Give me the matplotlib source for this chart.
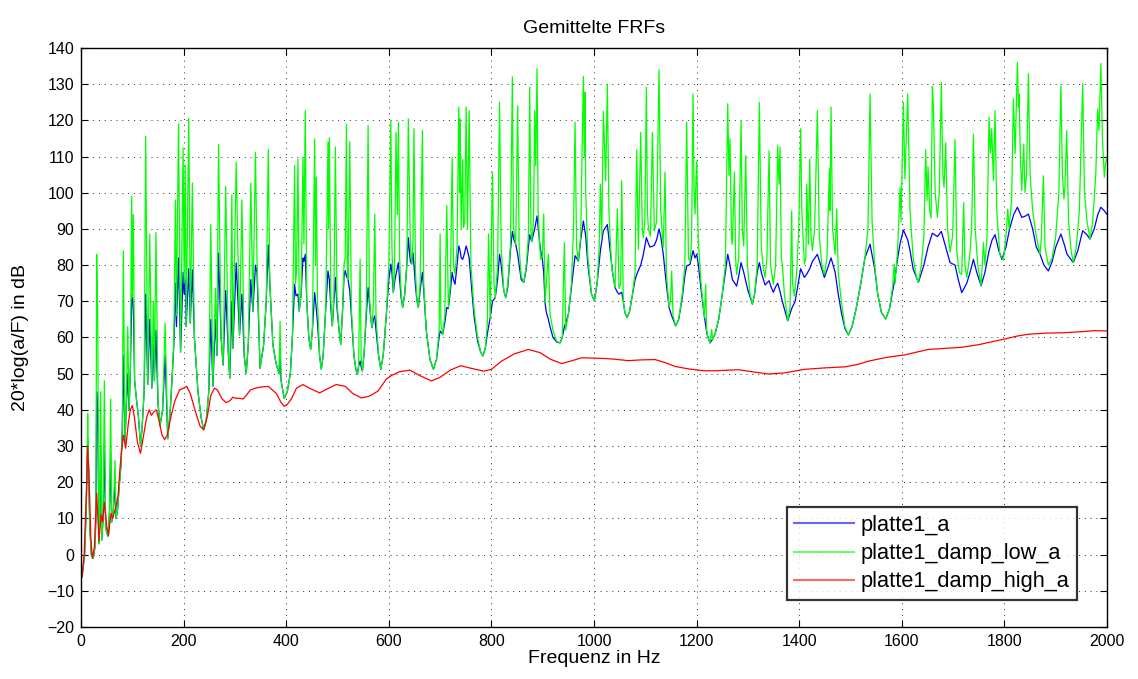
import numpy as np
import matplotlib
matplotlib.use("Agg")
import matplotlib.pyplot as plt

# Averaged frequency response functions (frequency in Hz, level in dB)
platte1_a = [
    (0, -7), (3, -5), (7, 0), (10, 12), (12, 26), (13, 32), (14.5, 25), (17, 8), (20, 0), (24, -1),
    (27, 2), (29, 10), (30.5, 45), (32.5, 40), (35, 3), (36.5, 10), (38.3, 30), (40.3, 4), (43, 10),
    (45.5, 30), (48, 8), (50, 6), (53.3, 5), (55.5, 12), (57.8, 28), (59.8, 9), (63, 12), (66.3, 20),
    (68.2, 10), (71, 12), (74, 18), (78, 25), (80.5, 35), (82.5, 55), (85.7, 31), (88, 40), (91, 50),
    (93.6, 40), (96, 50), (98.8, 70), (100, 72), (102, 68), (104.5, 48), (108, 43), (112, 38), (116, 30),
    (119, 35), (123, 45), (126, 72), (130, 47), (134, 65), (138, 46), (141, 58), (143, 48), (146, 62),
    (150, 42), (154, 35.6), (159, 40), (164, 55), (169, 32), (174, 40), (178, 50), (181, 58), (184, 75),
    (186, 63), (190, 82), (194, 56), (199, 78), (201, 72), (203, 76), (205, 63), (210, 79), (213, 64),
    (217, 78.7), (221, 60), (228, 45), (234, 38), (239, 34.5), (244, 37), (249, 45), (253, 65),
    (257, 46.5), (262, 65), (265, 55), (268, 83.3), (273, 60), (277, 52.4), (282, 73), (287, 56),
    (290, 48.8), (294, 70), (296, 57), (302.5, 80.6), (309, 60.7), (313.6, 72), (318, 55), (322, 50.1),
    (326, 58), (331, 76), (335, 67.2), (340, 80), (343, 78), (349, 51.5), (356, 58), (361, 70),
    (365, 85.6), (368, 75), (374, 58), (380, 53), (386, 50), (388, 55), (390, 48), (396, 43.2), (402, 45),
    (408, 50), (412, 60), (416.3, 74.7), (419, 71.5), (422.8, 72), (425.4, 67.3), (429, 72), (432.6, 82),
    (434.5, 81), (437.1, 83), (440, 70), (444, 60), (447.6, 56.7), (451, 62), (455.4, 72.4), (458.6, 68),
    (461, 64), (465, 55), (468.4, 51.2), (472, 55), (477, 68), (481.4, 78.4), (484, 76), (487, 68),
    (489.9, 63.2), (493, 70), (495.8, 76.6), (499, 68), (503, 62), (506.2, 58.1), (510, 68), (512.7, 77),
    (515, 78.5), (517.3, 77), (520.5, 76), (523.8, 73), (527, 66), (532, 55), (536, 51), (538.8, 49.8),
    (541, 52), (544, 53.5), (546, 52), (548.5, 50.7), (552, 56), (556, 66), (559.6, 73.8), (562, 70),
    (565, 65), (567.4, 62.7), (570, 65), (572.6, 66), (575, 62), (580, 55), (584.3, 51.2), (589, 55),
    (595, 66), (600, 76), (603.9, 80.3), (606, 78), (608.8, 72.4), (612, 76), (618.6, 80.7), (621, 76),
    (624, 71), (627, 68.3), (631, 72), (635, 80), (638, 87.6), (640, 84), (642, 81), (644.6, 80.3),
    (647, 83.5), (649, 80), (652, 74), (655, 70), (657.6, 68.3), (661, 73), (665.4, 78), (668, 73),
    (673, 62), (680, 54), (687, 51.2), (693, 54), (698, 60), (700, 61.8), (702, 61.5), (705, 60.9),
    (709, 64), (713, 68.3), (716, 68), (720, 73), (723.4, 78), (726, 76), (729, 74.7), (733, 80),
    (736.4, 85.3), (739, 84), (741, 82), (744, 81.6), (747, 83), (750.7, 85.3), (753.3, 84), (756.6, 82),
    (760, 76), (766, 66), (773, 59), (779, 56), (783.3, 54.9), (788, 57), (792, 61), (797.6, 65.5),
    (802, 70), (807.4, 71), (812, 76), (815.8, 83), (819, 80), (824, 73), (827.8, 71), (832, 74),
    (837, 84), (840.8, 89.3), (844, 87), (847.3, 85.8), (851.2, 83), (854, 80), (858, 76), (863, 75.2),
    (868, 79), (872, 85), (874.6, 88.4), (878.5, 86.5), (884.3, 90), (888.9, 93.6), (893.4, 87),
    (896, 84), (899, 82), (901.9, 78), (904.5, 69.6), (907, 67), (911, 65), (914.2, 63), (920, 60),
    (927, 58.8), (933.7, 58.5), (938, 60), (942.2, 63), (944.8, 64), (950, 66.4), (956, 74), (963, 82.6),
    (966, 82), (969.5, 81), (974, 87), (979.2, 92.2), (983.8, 88), (988, 80), (995, 72), (1000.7, 70.1),
    (1006, 75), (1012.4, 84), (1018.2, 89.5), (1022.7, 90.5), (1026, 91.2), (1030, 86), (1036, 78),
    (1041, 73.8), (1045.5, 72.5), (1048.7, 72), (1054, 72.5), (1057, 70), (1060, 67), (1064.3, 65.5),
    (1069, 67), (1075, 72), (1080, 76), (1083.2, 77.4), (1086.4, 78.5), (1091, 80), (1096.2, 83),
    (1102, 87.6), (1106, 86), (1109, 85), (1113.7, 85.2), (1117.6, 85.5), (1122, 87), (1126.7, 90),
    (1130, 88), (1135, 83), (1140, 76), (1146.2, 68.3), (1151.4, 66), (1159, 63.2), (1165, 65),
    (1172, 71), (1177, 77), (1180.6, 79.8), (1187, 80.2), (1193, 84), (1196.9, 82), (1200.2, 83),
    (1203.4, 80), (1208, 74), (1215, 66), (1220, 61), (1226, 58.5), (1231, 59.5), (1236, 61), (1243, 65),
    (1250, 72), (1256, 78), (1260.6, 83), (1265, 80), (1269.7, 76), (1278, 74.2), (1282, 77),
    (1286.6, 80.7), (1291.8, 78), (1300, 73), (1308.7, 69.2), (1313, 72), (1318, 78), (1322.3, 80.7),
    (1326, 78), (1333.4, 74.5), (1341.2, 75.7), (1345, 74), (1349.6, 72.5), (1354, 74), (1358, 75),
    (1362, 73), (1367, 70), (1377.5, 64.6), (1385.3, 68), (1392, 70), (1402.8, 79), (1410, 76.6),
    (1414.6, 77.5), (1420.4, 79), (1425.6, 81), (1435.4, 83), (1444, 79), (1449, 76.6), (1455, 79),
    (1462, 82), (1470, 78), (1476, 72), (1482, 67), (1489, 62.5), (1495.8, 60.7), (1503, 63), (1511, 68),
    (1520, 75), (1528, 82), (1538, 85.8), (1547, 79), (1553, 72), (1560, 67), (1568.6, 65.1), (1576, 68),
    (1584.9, 75), (1592, 82), (1596.6, 86), (1603, 89.7), (1611.4, 87), (1616, 84), (1622, 79),
    (1632.2, 75.2), (1643, 80), (1651, 85), (1659.5, 88.8), (1669.3, 87.9), (1677, 89.3), (1685.5, 85),
    (1694, 80.7), (1703.7, 80), (1710, 76), (1716.7, 72.4), (1726.5, 75), (1733, 78), (1739.5, 81.6),
    (1746, 78), (1754.5, 74.3), (1762, 78), (1770, 84), (1776, 87), (1781.7, 88.4), (1789, 84),
    (1795, 81.6), (1803, 85), (1810, 90), (1818, 94), (1825.3, 96), (1833.7, 93.2), (1840, 93.5),
    (1846.7, 94.1), (1855, 90), (1862, 85), (1869.4, 83), (1877, 80), (1885.7, 78.4), (1893, 81),
    (1900, 85), (1910, 88.6), (1916, 86), (1922, 83), (1934.3, 80.7), (1943, 84), (1952.5, 89.5),
    (1960, 88.5), (1966.8, 87.2), (1975, 90), (1982, 94), (1988, 96), (1994.7, 95), (2000, 94),
]

platte1_damp_low_a = [
    (0, -7), (3, -5), (7, 0), (10, 12), (12, 28), (13, 39), (14.5, 25), (17, 8), (20, 0), (24, -1),
    (27, 2), (29, 10), (30.5, 83), (32.5, 66), (35, 3), (36.5, 10), (38.3, 45), (40.3, 4), (43, 10),
    (45.5, 48), (48, 8), (50, 6), (53.3, 5), (55.5, 12), (57.8, 43), (59.8, 9), (63, 12), (66.3, 26),
    (68.2, 10), (71, 12), (74, 18), (78, 25), (80.5, 35), (82.5, 84), (85.7, 31), (88, 40), (91, 63),
    (93.6, 40), (96, 50), (98.8, 99), (100, 71), (102, 94), (104.5, 48), (108, 43), (112, 38), (116, 30),
    (119, 35), (123, 45), (126, 115.6), (130, 47), (134, 88.6), (138, 46), (141, 70), (143, 48),
    (146, 89), (150, 42), (154, 35.6), (159, 40), (164, 64), (169, 32), (174, 40), (178, 50), (181, 60),
    (184, 98), (186, 66), (190, 119), (194, 56), (199, 112.4), (201, 75), (203, 107.7), (205, 63),
    (210, 120.6), (213, 64), (217, 102.7), (221, 60), (228, 45), (234, 38), (239, 34.5), (244, 37),
    (249, 45), (253, 91.2), (257, 46.5), (262, 73.6), (265, 55), (268, 113.3), (273, 60), (277, 52.4),
    (282, 101.8), (287, 56), (290, 48.8), (294, 99.4), (296, 57), (302.5, 108.4), (309, 60.7),
    (313.6, 98), (318, 55), (322, 50.1), (326, 58), (331, 102.7), (335, 67.2), (340, 111.2), (343, 82),
    (349, 51.5), (356, 58), (361, 70), (365, 111.9), (368, 75), (374, 58), (380, 53), (386, 50),
    (388, 64.4), (390, 48), (396, 43.2), (402, 45), (408, 50), (412, 60), (416.3, 107.5), (418, 75),
    (420, 78), (422.8, 109.3), (425.4, 67.3), (429, 72), (432.6, 109.8), (434.5, 85.8), (437.1, 122.7),
    (440, 70), (444, 60), (447.6, 56.7), (451, 62), (455.4, 114.9), (457, 80), (458.6, 104.3), (461, 70),
    (465, 55), (468.4, 51.2), (472, 55), (477, 68), (481.4, 114), (482.5, 90), (484, 115.2), (487, 70),
    (489.9, 63.2), (493, 72), (495.8, 112.6), (499, 70), (503, 62), (506.2, 58.1), (510, 68),
    (512.7, 80.3), (515, 82), (517.3, 119), (519, 80), (520.5, 76), (523.8, 114.1), (527, 68), (532, 55),
    (536, 51), (538.8, 49.8), (541, 52), (544, 81.6), (546, 55), (548.5, 50.7), (552, 56), (556, 68),
    (559.6, 118.6), (562, 72), (565, 65), (567.4, 62.7), (570, 70), (572.6, 94.1), (575, 66), (580, 55),
    (584.3, 51.2), (589, 55), (595, 66), (600, 80), (603.9, 120), (606, 85), (608.8, 72.4), (611, 78),
    (614, 116.7), (616.6, 94), (618.6, 119.5), (621, 82), (624, 72), (627, 68.3), (631, 72), (635, 80),
    (638, 120.4), (640, 102.4), (642, 85), (644.6, 80.3), (647, 86), (649, 117.7), (652, 78), (655, 70),
    (657.6, 68.3), (661, 75), (665.4, 117.2), (668, 75), (673, 62), (680, 54), (687, 51.2), (693, 54),
    (698, 62), (700, 88.6), (701.5, 64), (705, 60.9), (709, 66), (713, 96.4), (716, 68.3), (720, 75),
    (723.4, 109.8), (726, 80), (729, 77.6), (733, 85), (736.4, 123.7), (738, 100), (739, 120.4),
    (741, 90), (744, 109.3), (745.5, 90.4), (748, 92), (750.7, 123.7), (753.3, 90), (756.6, 122.7),
    (760, 80), (766, 68), (773, 60), (779, 56), (783.3, 54.9), (788, 57), (792, 64), (794.3, 88.6),
    (797.6, 65), (802, 105.7), (805, 75), (807.4, 71), (812, 80), (815.8, 125), (819, 85), (824, 73),
    (827.8, 71), (832, 75), (837, 85), (840.8, 132), (843, 90), (844, 89.3), (847.3, 85.8), (851.2, 124),
    (854, 85), (858, 77), (863, 75.2), (868, 80), (872, 88), (874.6, 129.2), (877, 90), (878.5, 86.5),
    (882, 92), (884.3, 122.7), (886.3, 107.5), (888.9, 134.3), (891, 95), (893.4, 86.7), (896, 81.6),
    (899, 82), (901.9, 94.1), (904.5, 69.6), (907, 75), (911, 83), (914.2, 66.4), (920, 62), (927, 59),
    (933.7, 58.5), (938, 60), (942.2, 86.2), (944.8, 62), (950, 66.4), (956, 75), (960, 90),
    (963, 119.5), (966, 85), (969.5, 81), (974, 88), (979.2, 132.2), (981, 110), (982.5, 127.8),
    (983.8, 100), (988, 82), (995, 72), (1000.7, 70.1), (1006, 75), (1010, 85), (1012.4, 102.4),
    (1015, 88), (1018.2, 122.5), (1022.7, 103.3), (1026, 130), (1029, 95), (1034, 80), (1041, 73.8),
    (1045.5, 95.5), (1048.7, 73.5), (1052, 75), (1054, 103.3), (1057, 70), (1060, 67), (1064.3, 65.5),
    (1069, 67), (1075, 72), (1080, 78), (1083.2, 111.9), (1086.4, 84.4), (1091, 116.7), (1094, 90),
    (1096.2, 87.6), (1099, 92), (1102, 129.2), (1104, 95), (1106, 90), (1110, 88), (1113.7, 116.7),
    (1117.6, 89.5), (1122, 92), (1126.7, 134), (1130, 95), (1135, 85), (1138.4, 105.7), (1141, 78),
    (1146.2, 68.3), (1149, 70), (1151.4, 78.4), (1154, 66), (1159, 63.2), (1165, 65), (1172, 72),
    (1177, 80), (1180.6, 119.5), (1184, 82), (1187, 81), (1190, 86), (1193, 127.3), (1195, 100),
    (1196.9, 94.1), (1198, 100), (1200.2, 108.8), (1203, 88), (1208, 76), (1212, 70), (1215, 65.5),
    (1217.7, 74.7), (1219.5, 62), (1222, 60), (1226, 58.5), (1229.4, 62.2), (1231, 59.5), (1236, 61),
    (1243, 65), (1250, 72), (1256, 80), (1260.6, 124.6), (1263, 104.8), (1265, 114.9), (1268, 88),
    (1269.7, 85.8), (1273.6, 105.7), (1276, 82), (1278, 77.4), (1282, 82), (1286.6, 120), (1289, 90),
    (1291.8, 85.3), (1295.7, 110.3), (1299, 80), (1304, 72), (1308.7, 69.2), (1313, 72), (1318, 80),
    (1322.3, 125), (1326, 85), (1330, 79), (1333.4, 76.6), (1337, 82), (1341.2, 111.6), (1344, 80),
    (1349.6, 74.7), (1354, 80), (1358, 113.1), (1360.6, 102.4), (1362.6, 112.6), (1365, 82),
    (1367, 80.3), (1371, 72), (1377.5, 64.6), (1382, 68), (1385.3, 95), (1387, 75), (1390.5, 71.5),
    (1395, 78), (1399, 90), (1402.8, 117.7), (1405, 95), (1410, 80.3), (1413, 82), (1414.6, 102.4),
    (1417.8, 85.8), (1420.4, 109.3), (1423, 88), (1425.6, 84), (1430, 90), (1435.4, 122.7), (1439, 88),
    (1444, 80), (1449, 77.4), (1454, 82), (1458.8, 106.6), (1460, 95), (1462, 123.7), (1465, 90),
    (1470, 83), (1473, 95.5), (1476, 78), (1482, 70), (1489, 63), (1495.8, 60.7), (1503, 63), (1511, 68),
    (1520, 75), (1528, 82), (1534, 90), (1538, 127.3), (1542, 92), (1547, 80), (1553, 72), (1560, 67),
    (1568.6, 65.1), (1576, 68), (1582, 74), (1584.9, 80.3), (1587, 75), (1592, 85), (1596.6, 101.5),
    (1598.4, 92), (1603, 125), (1606, 103.8), (1611.4, 127.3), (1616, 95), (1622, 82), (1628, 77),
    (1632.2, 75.2), (1638, 80), (1643, 88), (1646.5, 111.9), (1649, 97.8), (1651, 107.2), (1654.3, 95),
    (1657, 93), (1659.5, 129.5), (1661.5, 124), (1665, 100), (1669.3, 93.2), (1673, 100), (1677, 130.5),
    (1680, 105), (1682.3, 101.5), (1685.5, 113.8), (1689, 90), (1694, 83.6), (1699, 88), (1703.7, 114.7),
    (1707, 84), (1712, 78), (1716.7, 77.4), (1720.6, 97.3), (1723, 80), (1726.5, 76.6), (1732, 82),
    (1736, 90), (1739.5, 116.2), (1743, 90), (1748, 80), (1754.5, 74.3), (1759, 86.2), (1762, 80),
    (1766, 88), (1770, 120.9), (1772.6, 111), (1775.2, 117.7), (1778.5, 103.4), (1781.7, 122.7),
    (1785, 95), (1791, 83), (1798, 81.4), (1803, 88), (1806.5, 95.5), (1809, 90), (1814, 98),
    (1817.5, 126), (1820.8, 110.7), (1825.3, 136.1), (1827.3, 123.7), (1828.6, 127.3), (1831, 110),
    (1833.7, 100.6), (1837.6, 113.5), (1840, 100.1), (1843, 105), (1846.7, 132.9), (1850, 105),
    (1855, 95), (1862, 88), (1869.4, 83), (1872, 88), (1875.9, 104.7), (1879, 85), (1885.7, 80),
    (1893, 82), (1900, 88), (1906, 100), (1910, 129.7), (1913, 105), (1916, 98.3), (1918, 102),
    (1921.4, 117.2), (1925, 92), (1930, 84), (1934.3, 80.7), (1940, 85), (1946, 95), (1952.5, 130.1),
    (1956, 100), (1961, 92), (1966.8, 87.2), (1972, 92), (1978, 105), (1981.7, 123.2), (1984.3, 117.2),
    (1988, 135.7), (1991, 115), (1994.7, 104.3), (1997, 108), (2000, 110),
]

platte1_damp_high_a = [
    (0, -7), (2, -6), (6, 0), (10, 15), (13, 30), (16, 20), (19, 5), (22, -1), (26, 2), (30.5, 17),
    (35, 3.7), (39, 11), (42, 9), (45.5, 14.5), (50, 8), (53.3, 5.3), (58.5, 11.4), (61.7, 10),
    (67.6, 13), (72, 16), (76, 24), (80, 30), (82.5, 33), (87, 29.4), (92, 36), (96, 40), (100, 41.2),
    (104, 38), (110, 31), (116, 28), (122, 33), (128, 38), (133, 40), (137, 38.5), (142, 39.5), (147, 40),
    (152, 37), (158, 33), (163, 31.8), (168, 33), (175, 38), (183, 42.5), (192, 45.5), (200, 46),
    (206, 46.5), (213, 44.5), (222, 40), (232, 35.5), (239, 34.5), (246, 38), (253, 44), (260, 46),
    (266, 45.5), (275, 43), (283, 42), (290, 42.5), (296, 43.5), (302, 43.2), (309, 43.2), (316, 43),
    (322, 44), (330, 45.5), (340, 46), (350, 46.3), (365, 46.5), (381, 44.5), (390, 42), (396, 41),
    (402, 41.5), (410, 43), (420, 46), (432.6, 47), (445, 46), (465, 44.7), (480, 45.8), (497.7, 47),
    (515, 46.5), (530, 44.5), (546.6, 43.3), (562, 43.8), (579, 45.2), (595, 48.5), (605, 49.5),
    (620, 50.5), (641, 51), (660, 49.5), (683, 48), (700, 49), (720, 51), (740, 52.2), (760, 51.5),
    (785, 50.7), (800, 51.2), (820, 53.5), (845, 55.5), (872, 56.7), (895, 55.8), (915, 54),
    (937, 52.8), (955, 53.5), (976, 54.4), (1000, 54.3), (1021, 54.2), (1040, 54), (1067, 53.6),
    (1090, 53.8), (1119, 53.9), (1140, 53), (1158, 52), (1185, 51.3), (1216, 50.8), (1236, 50.8),
    (1281, 51.1), (1310, 50.5), (1340, 49.9), (1370, 50.2), (1411, 51.2), (1450, 51.6), (1490, 51.9),
    (1515, 52.6), (1536, 53.5), (1570, 54.5), (1606, 55.2), (1630, 56), (1652, 56.7), (1685, 57),
    (1717, 57.3), (1749, 58), (1775, 58.8), (1801, 59.6), (1825, 60.4), (1846, 60.9), (1880, 61.2),
    (1911, 61.3), (1950, 61.6), (1976, 61.9), (2000, 61.8),
]

series_names = ["platte1_a", "platte1_damp_low_a", "platte1_damp_high_a"]
series_colors = ["#0000ff", "#00ff00", "#ff0000"]
x_ticks = list(range(0, 2001, 200))
y_ticks = list(range(-20, 141, 10))

plt.rcParams["font.family"] = ["Liberation Sans", "DejaVu Sans"]

fig = plt.figure(figsize=(11.38, 6.79), dpi=100)
ax = fig.add_axes([0.0712, 0.0766, 0.9016, 0.8527])

for name, data, color in zip(series_names,
                             [platte1_a, platte1_damp_low_a, platte1_damp_high_a],
                             series_colors):
    arr = np.array(data, dtype=float)
    ax.plot(arr[:, 0], arr[:, 1], color=color, lw=0.9, label=name)

ax.set_xlim(0, 2000)
ax.set_ylim(-20, 140)
ax.set_xticks(x_ticks)
ax.set_yticks(y_ticks)
ax.tick_params(direction="in", top=True, right=True, length=5, width=0.8,
               labelsize=11.5, pad=5)
ax.grid(True, color="#303030", linestyle=(0, (1, 5)), linewidth=0.7)
for s in ax.spines.values():
    s.set_linewidth(1.0)
    s.set_color("black")

ax.set_title("Gemittelte FRFs", fontsize=14, pad=11)
ax.set_xlabel("Frequenz in Hz", fontsize=14, labelpad=1)
ax.set_ylabel("20*log(a/F) in dB", fontsize=14, labelpad=13)

leg = ax.legend(loc="lower right", bbox_to_anchor=(0.971, 0.0466), borderaxespad=0,
                fontsize=15.7, frameon=True, fancybox=False, handlelength=2.75,
                labelspacing=0.33, borderpad=0.35, handletextpad=0.3)
leg.get_frame().set_edgecolor("black")
leg.get_frame().set_linewidth(1.6)
for line in leg.get_lines():
    line.set_linewidth(1.5)
    line.set_alpha(0.6)

fig.savefig("out.png", dpi=100, facecolor="white")
